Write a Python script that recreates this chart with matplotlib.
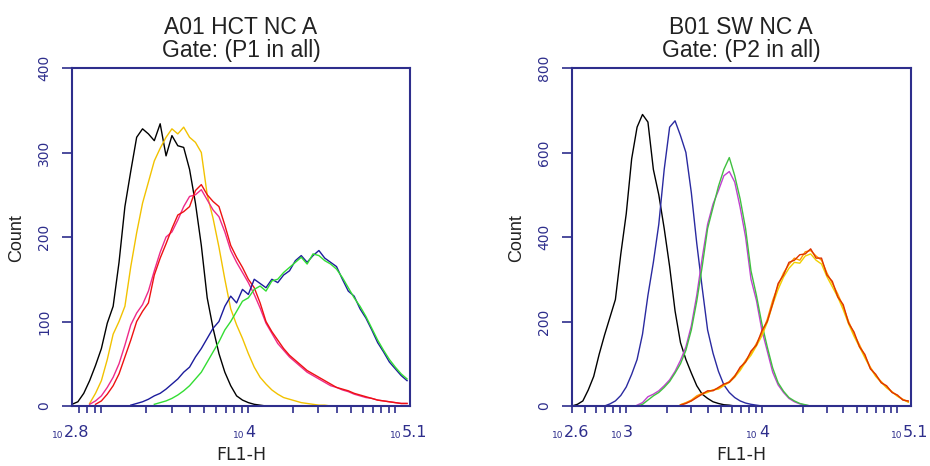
import numpy as np
import matplotlib
matplotlib.use('Agg')
import matplotlib.pyplot as plt
import matplotlib.transforms as mtransforms
from matplotlib.ticker import LogLocator, NullFormatter

plt.rcParams['font.family'] = ['Liberation Sans', 'DejaVu Sans']

NAVY = '#2e2e8c'
BIN = 0.04  # histogram channel width in log10 units

# ===== A01 HCT NC A  (Gate: P1) =====
left_title = 'A01 HCT NC A\nGate: (P1 in all)'
left_xrange = (2.8, 5.1)
left_yticks = [0, 100, 200, 300, 400]
left_xlabels = ['2.8', '4', '5.1']
left_xlabel_pos = [2.8, 4.0, 5.1]

l_black_start = 2.80
l_black = [2, 5, 15, 30, 48, 68, 98, 118, 170, 236, 278, 318, 328, 322, 314, 334, 296,
           320, 308, 306, 280, 240, 190, 128, 92, 62, 40, 24, 12, 7, 4, 2, 1, 0]
l_yellow_start = 2.92
l_yellow = [3, 15, 30, 55, 85, 100, 118, 165, 205, 240, 265, 290, 305, 318, 328, 322, 330,
            318, 312, 300, 250, 222, 188, 150, 115, 96, 80, 62, 46, 34, 26, 19, 14, 10, 8,
            6, 4, 3, 2, 1, 1, 0]
l_magenta_start = 2.92
l_magenta = [2, 6, 12, 22, 34, 50, 72, 96, 110, 120, 136, 160, 182, 200, 206, 220, 236, 248,
             250, 256, 244, 232, 224, 206, 184, 170, 158, 146, 132, 116, 98, 86, 74, 66, 58,
             52, 46, 40, 36, 32, 28, 24, 22, 19, 17, 14, 12, 10, 9, 7, 6, 5, 4, 3, 3]
l_red_start = 2.96
l_red = [2, 6, 14, 24, 38, 58, 78, 100, 112, 122, 155, 175, 192, 210, 226, 230, 236, 255,
         262, 250, 242, 236, 214, 190, 176, 164, 150, 140, 122, 100, 88, 78, 68, 60, 54, 48,
         42, 38, 34, 30, 26, 22, 20, 18, 15, 13, 11, 9, 7, 6, 5, 4, 3, 3]
l_blue_start = 3.20
l_blue = [1, 3, 5, 8, 12, 15, 20, 26, 32, 40, 46, 58, 68, 80, 92, 100, 118, 130, 122, 138,
          132, 150, 145, 140, 150, 146, 155, 160, 172, 178, 170, 178, 184, 175, 170, 165, 150,
          136, 130, 115, 104, 90, 75, 64, 52, 44, 36, 30]
l_green_start = 3.36
l_green = [2, 4, 6, 9, 13, 18, 24, 32, 40, 52, 64, 76, 90, 100, 112, 124, 128, 138, 142, 136,
           148, 150, 158, 164, 170, 176, 168, 180, 178, 172, 168, 162, 152, 140, 128, 118, 106,
           92, 78, 66, 55, 46, 38, 32]

# ===== B01 SW NC A  (Gate: P2) =====
right_title = 'B01 SW NC A\nGate: (P2 in all)'
right_xrange = (2.6, 5.1)
right_yticks = [0, 200, 400, 600, 800]
right_xlabels = ['2.6', '3', '4', '5.1']
right_xlabel_pos = [2.6, 3.0, 4.0, 5.1]

r_black_start = 2.60
r_black = [0, 4, 12, 38, 70, 122, 168, 210, 252, 360, 455, 585, 660, 690, 672, 560, 500, 420,
           330, 225, 150, 110, 78, 48, 28, 18, 10, 6, 3, 2, 0]
r_blue_start = 2.84
r_blue = [0, 5, 12, 25, 45, 75, 110, 170, 262, 340, 430, 560, 660, 675, 640, 600, 505, 385,
          280, 180, 125, 82, 50, 32, 20, 12, 7, 4, 2, 0]
r_magenta_start = 3.08
r_magenta = [2, 8, 22, 28, 36, 48, 62, 82, 108, 140, 190, 262, 350, 430, 478, 510, 545, 555,
             530, 470, 400, 300, 250, 180, 130, 80, 50, 32, 18, 10, 5, 2, 0]
r_green_start = 3.08
r_green = [0, 4, 14, 24, 32, 44, 58, 78, 100, 132, 180, 248, 330, 420, 470, 520, 560, 588, 545,
           490, 420, 320, 262, 195, 140, 90, 55, 35, 20, 12, 6, 3, 0]
r_orange_start = 3.40
r_orange = [3, 8, 14, 24, 30, 34, 38, 42, 50, 58, 72, 88, 108, 125, 148, 172, 205, 250, 285,
            315, 335, 350, 345, 365, 368, 355, 345, 315, 290, 265, 235, 200, 170, 145, 118, 92,
            72, 58, 45, 34, 24, 16, 10]
r_red_start = 3.40
r_red = [2, 6, 12, 20, 28, 36, 36, 44, 52, 56, 70, 92, 104, 130, 144, 178, 200, 242, 290, 310,
         340, 345, 358, 360, 372, 350, 350, 310, 295, 258, 240, 196, 175, 140, 122, 88, 75, 55,
         48, 32, 26, 14, 12]
r_yellow_start = 3.40
r_yellow = [3, 7, 12, 22, 28, 32, 38, 40, 48, 56, 68, 84, 104, 120, 142, 166, 198, 240, 276,
            305, 326, 340, 338, 355, 360, 345, 336, 306, 282, 258, 228, 194, 165, 140, 114, 90,
            70, 56, 43, 33, 23, 15, 9]

left_curves = [
    (l_black_start, l_black, '#000000'),
    (l_yellow_start, l_yellow, '#f2c200'),
    (l_magenta_start, l_magenta, '#ee2a8a'),
    (l_red_start, l_red, '#ee1111'),
    (l_blue_start, l_blue, '#1c1c9c'),
    (l_green_start, l_green, '#33dd33'),
]
right_curves = [
    (r_black_start, r_black, '#000000'),
    (r_blue_start, r_blue, '#2a2aa0'),
    (r_magenta_start, r_magenta, '#c040d0'),
    (r_green_start, r_green, '#40c040'),
    (r_yellow_start, r_yellow, '#f0d000'),
    (r_orange_start, r_orange, '#ff9900'),
    (r_red_start, r_red, '#dd3300'),
]

fig = plt.figure(figsize=(9.3, 4.66), dpi=100)
ax1 = fig.add_axes([72 / 930, 60 / 466, 338 / 930, 338 / 466])
ax2 = fig.add_axes([572 / 930, 60 / 466, 339 / 930, 338 / 466])


def setup_panel(ax, curves, xrange_, yticks, xlabels, xlabel_pos, title, tx):
    for start, counts, color in curves:
        x = 10 ** (start + BIN * np.arange(len(counts)))
        ax.plot(x, counts, color=color, linewidth=1.0)

    ax.set_xscale('log')
    ax.set_xlim(10 ** xrange_[0], 10 ** xrange_[1])
    ax.set_ylim(yticks[0], yticks[-1])

    for sp in ax.spines.values():
        sp.set_color(NAVY)
        sp.set_linewidth(1.5)

    # log ticks, all the same length
    ax.xaxis.set_major_locator(LogLocator(base=10, subs=np.arange(1, 10), numticks=40))
    ax.xaxis.set_minor_locator(LogLocator(base=10, subs=[], numticks=40))
    ax.xaxis.set_major_formatter(NullFormatter())
    ax.xaxis.set_minor_formatter(NullFormatter())
    ax.tick_params(axis='x', which='both', direction='out', length=5, width=1.2, color=NAVY)

    ax.set_yticks(yticks)
    ax.set_yticklabels([str(v) for v in yticks])
    ax.tick_params(axis='y', direction='out', length=7, width=1.2, color=NAVY,
                   labelcolor=NAVY, pad=8, labelsize=10)
    for lab in ax.get_yticklabels():
        lab.set_rotation(90)
        lab.set_va('center')
        lab.set_ha('right')
        lab.set_family('DejaVu Sans')

    base = mtransforms.blended_transform_factory(ax.transData, ax.transAxes)
    for lab, pos in zip(xlabels, xlabel_pos):
        split = -9 if '.' in lab else -4
        t10 = base + mtransforms.ScaledTranslation(split / 100, -32 / 100, fig.dpi_scale_trans)
        tex = base + mtransforms.ScaledTranslation((split + 1) / 100, -31 / 100, fig.dpi_scale_trans)
        ax.text(10 ** pos, 0, '10', transform=t10, ha='right', va='baseline',
                fontsize=6.5, color=NAVY, family='DejaVu Sans')
        ax.text(10 ** pos, 0, lab, transform=tex, ha='left', va='baseline',
                fontsize=11.5, color=NAVY, family='DejaVu Sans')

    fig.text(tx / 930, 1 - 39 / 466, title, ha='center', va='center', fontsize=16.5,
             linespacing=1.05, color='#222222')
    fig.text(tx / 930, 1 - 455 / 466, 'FL1-H', ha='center', va='center', fontsize=12.5,
             family='DejaVu Sans', color='#222222')
    fig.text((tx - 224) / 930, 1 - 238 / 466, 'Count', ha='center', va='center',
             rotation=90, fontsize=13, color='#222222')


setup_panel(ax1, left_curves, left_xrange, left_yticks, left_xlabels, left_xlabel_pos,
            left_title, 241)
setup_panel(ax2, right_curves, right_xrange, right_yticks, right_xlabels, right_xlabel_pos,
            right_title, 741)

fig.savefig('out.png', dpi=100, facecolor='white')
plt.close('all')
